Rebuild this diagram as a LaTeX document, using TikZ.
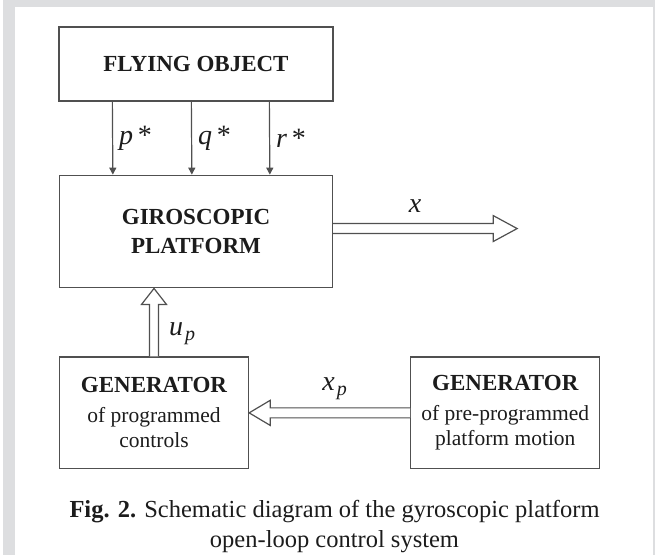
\documentclass[tikz,border=0pt]{standalone}
\usepackage{fontspec}
\setmainfont{Liberation Serif}
\usetikzlibrary{arrows.meta, positioning, calc}
\definecolor{lineGray}{RGB}{80, 80, 80}
\definecolor{frameGray}{RGB}{221, 222, 224}
\definecolor{inkBlack}{RGB}{28, 28, 28}
\tikzset{
    basicbox/.style={
        rectangle, draw=lineGray, fill=white, line width=1.3pt,
        align=center, text=inkBlack, inner sep=0pt
    },
    arrow/.style={-{Triangle[length=7pt, width=7pt]}, line width=1.2pt, color=lineGray},
    fatarrow/.style={line width=1.2pt, draw=lineGray, fill=white, line join=miter},
    siglabel/.style={font=\fontsize{28}{28}\selectfont, text=inkBlack, inner sep=0pt},
    figcaption/.style={font=\fontsize{24.5}{30}\selectfont, text=inkBlack, align=center, inner sep=0pt},
}
% signal with a lowered index, e.g. u_p
\newcommand{\sigsub}[2]{\textit{#1}\kern2pt\raisebox{-5pt}{\fontsize{20}{20}\selectfont\textit{#2}}}

\begin{document}
\begin{tikzpicture}[x=1pt, y=1pt, node distance=73pt and 161pt]
    \tikzstyle{titlebox}=[basicbox, font=\fontsize{23}{29}\selectfont\bfseries]
    \tikzstyle{genbox}=[basicbox, font=\fontsize{21.5}{25}\selectfont, minimum width=189pt, minimum height=111.5pt]
    \newcommand{\gentitle}{{\fontsize{23}{25}\selectfont\bfseries GENERATOR}}

    % page with grey frame
    \useasboundingbox (0,0) rectangle (655,-555);
    \fill[frameGray] (3,0) rectangle (655,-7);
    \fill[frameGray] (3,0) rectangle (15,-555);
    \fill[frameGray] (653,0) rectangle (655,-555);

    % Blocks
    \node[titlebox, minimum width=274pt, minimum height=74pt] (fly) at (196,-64) {FLYING OBJECT};
    \node[titlebox, minimum width=273pt, minimum height=112.5pt, below=of fly] (giro) {GIROSCOPIC\\PLATFORM};
    \node[genbox, below=68pt of giro.south west, anchor=north west] (gen1) {\gentitle\\[5pt]of programmed\\controls};
    \node[genbox, right=of gen1] (gen2) {\gentitle\\[5pt]of pre-programmed\\platform motion};

    % angular rates from the flying object
    \foreach \dx/\sym in {54/p, 133/q, 211/r} {
        \draw[arrow] ([xshift=\dx pt]fly.south west) -- ([xshift=\dx pt]giro.north west)
            node[siglabel, midway, right=6pt] {\textit{\sym}\,*};
    }

    % platform output x
    \coordinate (xout) at ([shift={(184,3)}]giro.east);
    \draw[fatarrow] ([yshift=8]giro.east) -- ++(160,0) -- ++(0,8) -- (xout) -- ++(-24,-13) -- ++(0,8) -- ++(-160,0);
    \node[siglabel] (xlab) at ([shift={(82,25)}]giro.east) {\textit{x}};

    % control u_p
    \draw[fatarrow] ([xshift=-4.5]gen1.north) -- ++(0,52) -- ++(-8,0) -- (gen1.north |- giro.south) -- ++(12.5,-16) -- ++(-8,0) -- ++(0,-52);
    \node[siglabel, anchor=base west] (uplab) at ([shift={(15,20.5)}]gen1.north) {\sigsub{u}{p}};

    % programmed motion x_p
    \draw[fatarrow] ([yshift=5]gen2.west) -- ++(-140,0) -- ++(0,7.5) -- (gen1.east |- gen2.west) -- ++(21,-12.5) -- ++(0,7.5) -- ++(140,0);
    \node[siglabel, anchor=base west] (xplab) at ([shift={(-88,22)}]gen2.west) {\sigsub{x}{p}};

    % Caption
    \node[figcaption] (cap) at (334.5,-527) {\textbf{Fig. 2.} Schematic diagram of the gyroscopic platform\\open-loop control system};
\end{tikzpicture}
\end{document}
